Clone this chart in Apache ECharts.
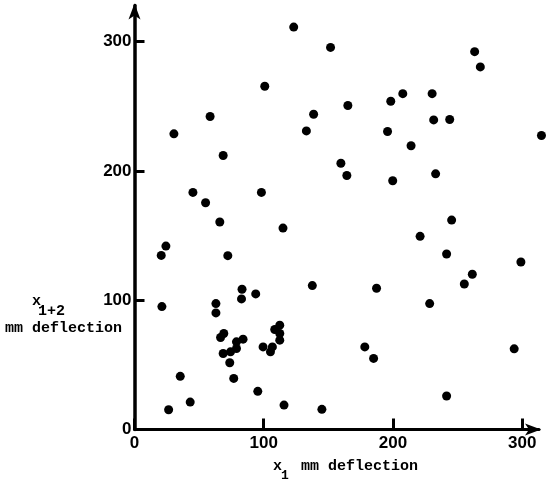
<!DOCTYPE html>
<html>
<head>
<meta charset="utf-8">
<script src="https://cdn.jsdelivr.net/npm/echarts@6/dist/echarts.min.js"></script>
<style>
  html, body { margin: 0; padding: 0; background: #fff; }
  #chart { width: 550px; height: 483px; }
</style>
</head>
<body>
<div id="chart"></div>
<script>
// x1 and x1+2 deflections (mm)
const xDefl = [123.2, 151.7, 263.2, 267.6, 100.8, 207.6, 230.3, 198.3, 165.1, 138.6,
  58.5, 231.5, 243.9, 133.0, 195.8, 30.5, 314.9, 214.0, 68.6, 159.7,
  164.3, 233.0, 199.8, 45.2, 98.2, 55.0, 66.0, 245.4, 114.9, 221.0,
  24.3, 20.7, 72.2, 241.5, 299.0, 261.4, 255.2, 137.6, 187.3, 83.2,
  93.8, 82.8, 228.4, 21.2, 63.0, 63.0, 112.4, 108.5, 112.4, 69.1,
  66.6, 84.0, 112.4, 78.9, 99.5, 106.7, 178.2, 78.9, 293.8, 74.3,
  105.2, 68.6, 185.0, 73.7, 35.4, 76.8, 95.4, 241.5, 43.1, 115.7,
  26.4, 145.0];
const yDefl = [311.3, 295.6, 292.3, 280.5, 265.5, 259.8, 259.8, 253.9, 250.6, 243.9,
  242.1, 239.5, 239.8, 231.0, 230.5, 228.7, 227.4, 219.5, 212.0, 206.0,
  196.5, 197.8, 192.4, 183.4, 183.4, 175.4, 160.5, 162.0, 155.8, 149.4,
  141.9, 134.7, 134.5, 135.8, 129.6, 120.1, 112.6, 111.3, 109.3, 108.5,
  104.9, 101.0, 97.4, 95.1, 97.4, 90.2, 80.7, 77.4, 74.3, 74.3,
  71.2, 69.9, 69.1, 67.8, 63.9, 63.9, 63.9, 62.7, 62.4, 60.1,
  60.1, 58.8, 55.0, 51.6, 41.1, 39.5, 29.5, 25.9, 21.2, 18.9,
  15.3, 15.6];
const xTicks = [0, 100, 200, 300];
const yTicks = [0, 100, 200, 300];

const points = xDefl.map((x, i) => [x, yDefl[i]]);

const tickFont = '"Liberation Sans", Arial, sans-serif';
const nameFont = '"Liberation Mono", "DejaVu Sans Mono", monospace';

const chart = echarts.init(document.getElementById('chart'));
chart.setOption({
  animation: false,
  backgroundColor: '#fff',
  grid: { left: 134.5, right: 11, top: 5.5, bottom: 53.5 },
  xAxis: {
    type: 'value',
    min: 0,
    max: 313,
    splitLine: { show: false },
    axisLine: {
      lineStyle: { color: '#000', width: 3 },
      symbol: ['none', 'arrow'],
      symbolSize: [9, 16],
      symbolOffset: [0, 2]
    },
    axisTick: { customValues: xTicks, inside: true, length: 11, lineStyle: { color: '#000', width: 3 } },
    axisLabel: {
      customValues: xTicks,
      color: '#000', fontFamily: tickFont, fontSize: 17, fontWeight: 'bold', margin: 5
    }
  },
  yAxis: {
    type: 'value',
    min: 0,
    max: 328,
    splitLine: { show: false },
    axisLine: {
      lineStyle: { color: '#000', width: 3.5 },
      symbol: ['none', 'arrow'],
      symbolSize: [9, 16],
      symbolOffset: [0, 2]
    },
    axisTick: { customValues: yTicks, inside: true, length: 10, lineStyle: { color: '#000', width: 3 } },
    axisLabel: {
      customValues: yTicks,
      color: '#000', fontFamily: tickFont, fontSize: 17, fontWeight: 'bold', margin: 3
    }
  },
  graphic: [
    { type: 'text', left: 32, top: 294, style: { text: 'x', font: 'bold 15px ' + nameFont, fill: '#000' } },
    { type: 'text', left: 38, top: 304, style: { text: '1+2', font: 'bold 15px ' + nameFont, fill: '#000' } },
    { type: 'text', left: 5, top: 321, style: { text: 'mm deflection', font: 'bold 15px ' + nameFont, fill: '#000' } },
    { type: 'text', left: 273, top: 459, style: { text: 'x', font: 'bold 15px ' + nameFont, fill: '#000' } },
    { type: 'text', left: 281, top: 469, style: { text: '1', font: 'bold 13px ' + nameFont, fill: '#000' } },
    { type: 'text', left: 301, top: 459, style: { text: 'mm deflection', font: 'bold 15px ' + nameFont, fill: '#000' } }
  ],
  series: [{
    type: 'scatter',
    data: points,
    symbol: 'circle',
    symbolSize: 9,
    clip: false,
    itemStyle: { color: '#000', opacity: 1 }
  }]
});
</script>
</body>
</html>
